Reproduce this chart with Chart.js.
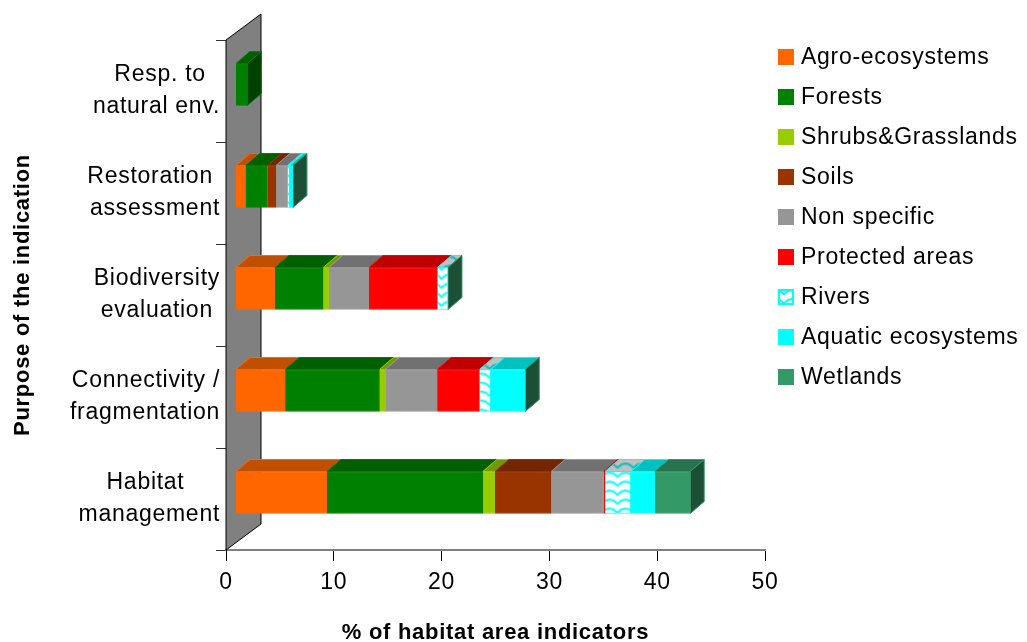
<!DOCTYPE html>
<html>
<head>
<meta charset="utf-8">
<title>Habitat area indicators</title>
<script src="https://cdn.jsdelivr.net/npm/chart.js@4/dist/chart.umd.min.js"></script>
<style>
  body { margin: 0; background: #fff; }
  canvas { display: block; }
</style>
</head>
<body>
<canvas id="graph_habitat" width="1027" height="642"></canvas>
<script>
/*------------------------------*/
/*            DATA              */
/*------------------------------*/
// trailing spaces keep the short lines roughly centred over the long ones
var categories = [
    ['Resp. to  ', 'natural env.'],
    ['Restoration ', 'assessment'],
    ['Biodiversity', 'evaluation '],
    ['Connectivity /', 'fragmentation'],
    ['Habitat     ', 'management']
]
var seriesNames = ['Agro-ecosystems', 'Forests', 'Shrubs&Grasslands', 'Soils', 'Non specific',
    'Protected areas', 'Rivers', 'Aquatic ecosystems', 'Wetlands']

var agro           = [null, 0.93, 3.65, 4.6, 8.47]
var forests        = [1.1, 2.04, 4.49, 8.76, 14.47]
var shrubs         = [null, null, 0.5, 0.52, 1.11]
var soils          = [null, 0.78, null, null, 5.23]
var nonSpecific    = [null, 1.08, 3.74, 4.82, 4.85]
var protectedAreas = [null, null, 6.35, 3.93, 0.15]
var rivers         = [null, 0.2, 0.98, 1.05, 2.4]
var aquatic        = [null, 0.3, null, 3.2, 2.2]
var wetlands       = [null, 0, 0, 0, 3.3]
var seriesValues = [agro, forests, shrubs, soils, nonSpecific, protectedAreas, rivers, aquatic, wetlands]

var seriesColors = ['#ff6600', '#008000', '#99cc00', '#993300', '#969696', '#ff0000', '#00ffff', '#00ffff', '#339966']
var topColors    = ['#c05000', '#006000', '#739900', '#732600', '#717171', '#c00000', '#00c0c0', '#00c0c0', '#267350']
var sideColors   = ['#803300', '#004000', '#4d6600', '#4d1a00', '#4b4b4b', '#800000', '#008080', '#008080', '#1c4f35']
var xTickValues = [0, 10, 20, 30, 40, 50]

var RIVERS = 6
var FONT = 'Liberation Sans'
var TEXT_SPACING = '0.72px'
// oblique offset of the bars and of the back wall
var DEPTH_X = 14, DEPTH_Y = 12
var WALL_X = 35, WALL_Y = 26
var BAR_SHIFT_X = 9.5, BAR_SHIFT_Y = -6.5

// wavy hatch used by the Rivers series
function wavePattern(ctx, back, line) {
    var tile = document.createElement('canvas')
    tile.width = 16
    tile.height = 9
    var c = tile.getContext('2d')
    c.fillStyle = back
    c.fillRect(0, 0, 16, 9)
    c.strokeStyle = line
    c.lineWidth = 2
    c.beginPath()
    c.moveTo(-1, 7)
    c.lineTo(4, 3)
    c.lineTo(8, 2)
    c.lineTo(12, 3)
    c.lineTo(17, 7)
    c.stroke()
    return ctx.createPattern(tile, 'repeat')
}

/*------------------------------*/
/*          GRAPHIQUE           */
/*------------------------------*/
var ctx_habitat = document.getElementById('graph_habitat').getContext('2d')
var riverFront = wavePattern(ctx_habitat, '#ffffff', '#00ffff')
var riverTop = wavePattern(ctx_habitat, '#c0c0c0', '#00c0c0')

function spacing(chart) {
    chart.ctx.letterSpacing = TEXT_SPACING
}

function quad(ctx, x1, y1, x2, y2, x3, y3, x4, y4, fill, stroke) {
    ctx.beginPath()
    ctx.moveTo(x1, y1)
    ctx.lineTo(x2, y2)
    ctx.lineTo(x3, y3)
    ctx.lineTo(x4, y4)
    ctx.closePath()
    ctx.fillStyle = fill
    ctx.fill()
    ctx.strokeStyle = stroke
    ctx.lineWidth = 1
    ctx.stroke()
}

// grey back wall, then the top and end faces of the stacked bars
var bars3d = {
    id: 'bars3d',
    beforeUpdate: spacing,
    beforeDraw: spacing,
    beforeDatasetsDraw: function (chart) {
        var ctx = chart.ctx
        var area = chart.chartArea
        quad(ctx, area.left, area.bottom, area.left + WALL_X, area.bottom - WALL_Y,
            area.left + WALL_X, area.top - WALL_Y, area.left, area.top, '#808080', '#000000')

        ctx.save()
        ctx.translate(BAR_SHIFT_X, BAR_SHIFT_Y)
        categories.forEach(function (cat, i) {
            var last = -1
            chart.data.datasets.forEach(function (ds, d) {
                if (ds.data[i] === null) return
                last = d
                var bar = chart.getDatasetMeta(d).data[i]
                var top = bar.y - bar.height / 2
                quad(ctx, bar.base, top, bar.base + DEPTH_X, top - DEPTH_Y, bar.x + DEPTH_X, top - DEPTH_Y, bar.x, top,
                    d === RIVERS ? riverTop : topColors[d], seriesColors[d])
            })
            var end = chart.getDatasetMeta(last).data[i]
            var y0 = end.y - end.height / 2
            var y1 = end.y + end.height / 2
            quad(ctx, end.x, y0, end.x + DEPTH_X, y0 - DEPTH_Y, end.x + DEPTH_X, y1 - DEPTH_Y, end.x, y1,
                sideColors[last], seriesColors[last])
        })
        // the front faces are drawn by the library, shifted off the wall
    },
    afterDatasetsDraw: function (chart) {
        chart.ctx.restore()
    },
    afterDraw: function (chart) {
        var ctx = chart.ctx
        ctx.save()
        ctx.font = '23px "' + FONT + '"'
        ctx.textBaseline = 'middle'
        seriesNames.forEach(function (name, d) {
            var y = 57 + d * 40
            ctx.fillStyle = d === RIVERS ? riverFront : seriesColors[d]
            ctx.fillRect(778, y - 8, 16, 16)
            if (d === RIVERS) {
                ctx.strokeStyle = '#00ffff'
                ctx.lineWidth = 2
                ctx.strokeRect(779, y - 7, 14, 14)
            }
            ctx.fillStyle = '#000000'
            ctx.fillText(name, 801, y + 1)
        })
        ctx.restore()
    }
}

var data_habitat = {
    labels: categories,
    datasets: seriesNames.map(function (name, d) {
        return {
            label: name,
            data: seriesValues[d],
            backgroundColor: d === RIVERS ? riverFront : seriesColors[d],
            borderColor: seriesColors[d],
            borderWidth: 1,
            barThickness: 42
        }
    })
}

var config_habitat = {
    type: 'bar',
    data: data_habitat,
    plugins: [bars3d],
    options: {
        indexAxis: 'y',
        responsive: false,
        animation: false,
        layout: { padding: { top: 40, right: 262, left: 0, bottom: 0 } },
        font: { family: FONT },
        plugins: {
            legend: { display: false },
            tooltip: { enabled: false }
        },
        scales: {
            x: {
                stacked: true,
                min: 0,
                max: 50,
                afterFit: function (scale) { scale.height = 92 },
                afterBuildTicks: function (scale) {
                    scale.ticks = xTickValues.map(function (v) { return { value: v } })
                },
                border: { color: '#808080', width: 2 },
                grid: { drawOnChartArea: false, tickColor: '#000000', tickLength: 11 },
                ticks: {
                    color: '#000000',
                    padding: 8,
                    maxRotation: 0,
                    font: { family: FONT, size: 23 }
                },
                title: {
                    display: true,
                    text: '% of habitat area indicators',
                    color: '#000000',
                    padding: { top: 0, bottom: -4 },
                    font: { family: FONT, size: 22, weight: 'bold' }
                }
            },
            y: {
                stacked: true,
                afterFit: function (scale) { scale.width = 226 },
                border: { color: '#000000', width: 1 },
                grid: { drawOnChartArea: false, tickColor: '#303030', tickLength: 10 },
                ticks: {
                    color: '#000000',
                    padding: -4,
                    autoSkip: false,
                    font: { family: FONT, size: 23, lineHeight: 1.39 }
                },
                title: {
                    display: true,
                    text: 'Purpose of the indication',
                    color: '#000000',
                    padding: { top: 10, bottom: 0 },
                    font: { family: FONT, size: 22, weight: 'bold' }
                }
            }
        }
    }
}
var graph_habitat = new Chart(ctx_habitat, config_habitat)
</script>
</body>
</html>
